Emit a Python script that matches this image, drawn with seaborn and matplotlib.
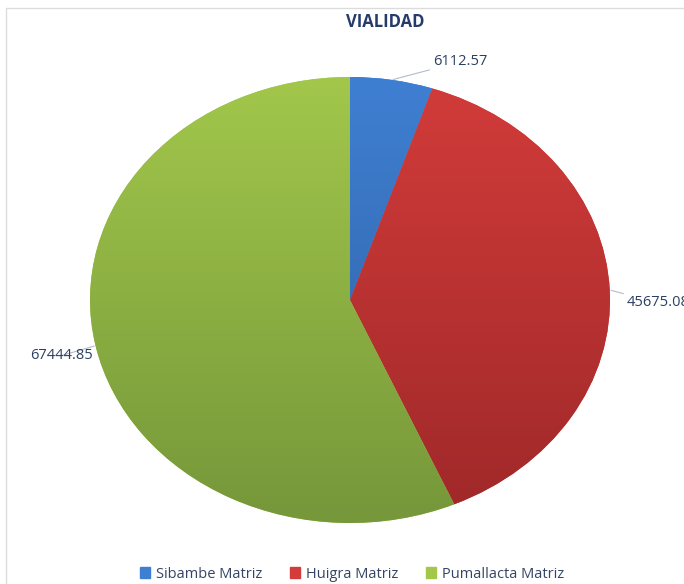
"""Gráfico de pastel de vialidad por matriz"""
import numpy as np
import seaborn as sns
import matplotlib.pyplot as plt
from matplotlib.colors import LinearSegmentedColormap
from matplotlib.patches import Rectangle

categorias = ['Sibambe Matriz', 'Huigra Matriz', 'Pumallacta Matriz']
valores = [6112.57, 45675.08, 67444.85]
etiquetas = ['6112.57', '45675.08', '67444.85']

tonos_claros = ['#3f7fd2', '#d23c3a', '#a2c74b']
tonos_oscuros = ['#2c5f9f', '#9f2829', '#76973a']

sns.set_theme(style='white')
plt.rcParams['font.family'] = ['Open Sans', 'DejaVu Sans']

fig = plt.figure(figsize=(6.84, 5.84), dpi=100)
ax = fig.add_axes([90 / 684, 61 / 584, 520 / 684, 446 / 584])

wedges, _ = ax.pie(valores, colors=tonos_claros, startangle=90, counterclock=False,
                   radius=1, wedgeprops=dict(linewidth=0))

# degradado vertical como en Excel
grad = np.linspace(0, 1, 256).reshape(-1, 1)
for w, c1, c2 in zip(wedges, tonos_claros, tonos_oscuros):
    cmap = LinearSegmentedColormap.from_list('g', [c2, c1])
    im = ax.imshow(grad, cmap=cmap, extent=(-1, 1, -1, 1), origin='lower',
                   aspect='auto', zorder=w.get_zorder() + 0.1)
    im.set_clip_path(w)

ax.set_aspect('auto')
ax.set_xlim(-1, 1)
ax.set_ylim(-1, 1)
ax.axis('off')

# etiquetas con líneas guía
desplaz = [(41, 18, 'left'), (17, -13, 'left'), (-3, -10, 'right')]
for w, txt, (dx, dy, ha) in zip(wedges, etiquetas, desplaz):
    ang = np.deg2rad((w.theta1 + w.theta2) / 2)
    ax.annotate(txt, xy=(np.cos(ang), np.sin(ang)), xytext=(dx, dy),
                textcoords='offset pixels', ha=ha, va='center', fontsize=10.5,
                color='#2a3f62', annotation_clip=False,
                arrowprops=dict(arrowstyle='-', color='#b4bcc8', lw=0.8,
                                shrinkA=0, shrinkB=1))

fig.text(385 / 684, 1 - 22 / 584, 'VIALIDAD', ha='center', va='center',
         fontsize=12, fontweight='bold', color='#243b6b')

handles = [Rectangle((0, 0), 1, 1, color=c) for c in tonos_claros]
fig.legend(handles, categorias, loc='center', bbox_to_anchor=(352 / 684, 1 - 574 / 584),
           ncol=3, frameon=False, fontsize=10.5, handlelength=0.7, handleheight=0.7,
           handletextpad=0.4, columnspacing=1.9, labelcolor='#354563')

fig.add_artist(Rectangle((6 / 684, -0.1), 2, 1.1 - 8 / 584, fill=False,
                         edgecolor='#dcdcdc', lw=1, transform=fig.transFigure))

plt.savefig('out.png', dpi=100)
plt.close()
